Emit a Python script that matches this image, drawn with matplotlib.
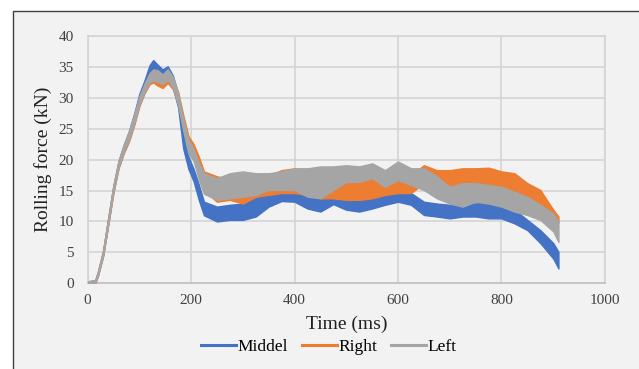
import matplotlib
matplotlib.use("Agg")
import matplotlib.pyplot as plt
from matplotlib.patches import Rectangle
from matplotlib.lines import Line2D

# time axis (ms), shared by all three rolls
time_ms = [0, 15, 20, 30, 40, 50, 60, 70, 80, 90, 100, 110, 120, 127, 135,
           145, 155, 165, 175, 185, 195, 205, 215,
           225, 250, 275, 300, 325, 350, 375, 400, 425, 450, 475, 500, 525,
           550, 575, 600, 625, 650, 675, 700, 725, 750, 775, 800, 825, 850,
           875, 900, 910]

# each signal is noisy, so keep the lower / upper envelope of the trace (kN)
middel_lo = [0, 0.1, 1.2, 4.4, 9.5, 14.8, 18.8, 21.2, 23.2, 25.8, 28.8, 31.0,
             32.8, 33.2, 33.0, 32.4, 33.0, 31.6, 28.5, 21.8, 18.5, 16.5, 13.5,
             11.0, 10.0, 10.25, 10.25, 10.8, 12.4, 13.3, 13.2, 12.1, 11.6,
             12.8, 11.9, 11.6, 12.1, 12.7, 13.2, 12.7, 11.05, 10.8, 10.5,
             10.8, 10.8, 10.5, 10.5, 9.7, 8.6, 6.5, 4.0, 2.4]
middel_hi = [0.3, 0.5, 1.8, 5.2, 10.5, 15.8, 19.8, 22.4, 24.6, 27.4, 30.6,
             32.8, 35.3, 36.1, 35.4, 34.6, 35.1, 33.6, 30.6, 24.0, 20.5, 18.5,
             16.0, 13.2, 12.4, 12.7, 12.9, 13.8, 14.6, 15.4, 15.1, 14.3,
             13.75, 14.6, 13.8, 13.75, 14.0, 14.6, 15.1, 14.6, 13.2, 12.9,
             12.7, 13.2, 12.9, 13.2, 12.7, 11.9, 10.25, 8.6, 6.5, 5.1]

right_lo = [0, 0.1, 1.2, 4.4, 9.5, 14.6, 18.6, 21.0, 22.9, 25.5, 28.6, 30.7,
            32.2, 32.5, 32.0, 31.6, 32.4, 31.4, 29.0, 25.0, 21.5, 20.3, 18.5,
            15.0, 13.2, 13.5, 12.9, 14.0, 14.3, 14.6, 14.6, 14.3, 13.75,
            13.75, 13.5, 13.5, 13.75, 14.3, 14.6, 14.6, 16.2, 15.6, 15.6,
            15.6, 15.9, 15.9, 15.1, 14.6, 14.0, 12.9, 10.5, 9.8]
right_hi = [0.3, 0.5, 1.8, 5.2, 10.5, 15.6, 19.6, 22.1, 24.3, 27.0, 30.0,
            32.0, 33.8, 34.2, 34.0, 33.4, 34.2, 33.2, 31.0, 27.2, 23.8, 22.5,
            20.5, 18.1, 17.3, 16.9, 16.9, 17.3, 17.5, 18.3, 18.6, 18.3, 16.5,
            16.2, 16.4, 16.7, 17.0, 16.4, 17.3, 17.5, 19.1, 18.3, 18.3, 18.6,
            18.6, 18.7, 18.1, 17.8, 16.2, 15.1, 11.9, 10.8]

left_lo = [0, 0.1, 1.2, 4.4, 9.5, 14.8, 18.8, 21.2, 23.2, 25.8, 28.8, 30.9,
           32.5, 32.8, 32.6, 32.2, 32.9, 31.6, 28.9, 24.7, 21.0, 19.8, 16.8,
           14.5, 13.5, 13.75, 14.0, 14.3, 15.1, 15.1, 15.1, 14.0, 13.75,
           15.1, 16.4, 16.4, 17.0, 15.6, 16.7, 15.9, 15.1, 13.75, 12.9, 12.4,
           13.2, 12.9, 12.4, 11.6, 11.05, 10.25, 8.4, 6.7]
left_hi = [0.3, 0.5, 1.8, 5.2, 10.5, 15.8, 19.8, 22.4, 24.6, 27.2, 30.2,
           32.3, 34.0, 34.6, 34.5, 33.8, 34.6, 33.4, 30.8, 26.7, 23.2, 21.8,
           19.5, 17.8, 17.0, 17.8, 18.1, 17.8, 17.8, 18.1, 18.6, 18.6, 18.9,
           18.9, 19.1, 18.9, 19.4, 18.3, 19.7, 18.6, 18.6, 17.3, 15.6, 16.2,
           16.2, 15.9, 15.6, 14.8, 14.0, 12.7, 11.3, 10.0]

series_names = ["Middel", "Right", "Left"]
series_colors = ["#4472C4", "#ED7D31", "#A5A5A5"]

x_ticks = [0, 200, 400, 600, 800, 1000]
y_ticks = [0, 5, 10, 15, 20, 25, 30, 35, 40]

plt.rcParams["font.family"] = ["Liberation Serif", "DejaVu Serif"]

bg = "#f2f2f2"
fig = plt.figure(figsize=(6.39, 3.69), dpi=100, facecolor="white")

# chart area frame, only its top and left edges fall inside the image
frame = Rectangle((13 / 639, -0.2), 1.2, 0.2 + 1 - 11 / 369,
                  transform=fig.transFigure, facecolor=bg,
                  edgecolor="#404040", linewidth=1.0, zorder=-5)
fig.patches.append(frame)

ax = fig.add_axes([87.5 / 639, 1 - 283.3 / 369, 517.5 / 639, 247.3 / 369])
ax.set_facecolor(bg)

bands = [(middel_lo, middel_hi), (right_lo, right_hi), (left_lo, left_hi)]
for i, (lo, hi) in enumerate(bands):
    ax.fill_between(time_ms, lo, hi, color=series_colors[i],
                    edgecolor=series_colors[i], linewidth=1.0, zorder=3 + i)

ax.set_xlim(0, 1000)
ax.set_ylim(0, 40)
ax.set_xticks(x_ticks)
ax.set_yticks(y_ticks)
ax.grid(True, color="#d4d4d4", linewidth=1.2)
ax.set_axisbelow(True)
for side in ["top", "right", "left"]:
    ax.spines[side].set_color("#d4d4d4")
    ax.spines[side].set_linewidth(1.2)
ax.spines["bottom"].set_color("#bfbfbf")
ax.spines["bottom"].set_linewidth(1.2)
ax.tick_params(length=0, labelsize=11, labelcolor="#404040")
ax.tick_params(axis="x", pad=8)
ax.tick_params(axis="y", pad=10)

ax.text(0.5, -0.165, "Time (ms)", transform=ax.transAxes, ha="center",
        va="center", fontsize=14, color="#202020")
ax.text(-0.086, 0.5, "Rolling force (kN)", transform=ax.transAxes,
        ha="center", va="center", rotation=90, fontsize=14, color="#202020")

handles = [Line2D([], [], color=c, linewidth=2.2) for c in series_colors]
fig.legend(handles, series_names, loc="center", bbox_to_anchor=(0.515, 0.06),
           ncol=3, frameon=False, fontsize=12.5, handlelength=2.0,
           handletextpad=0.1, columnspacing=0.8)

fig.savefig("out.png", dpi=100, facecolor="white")
